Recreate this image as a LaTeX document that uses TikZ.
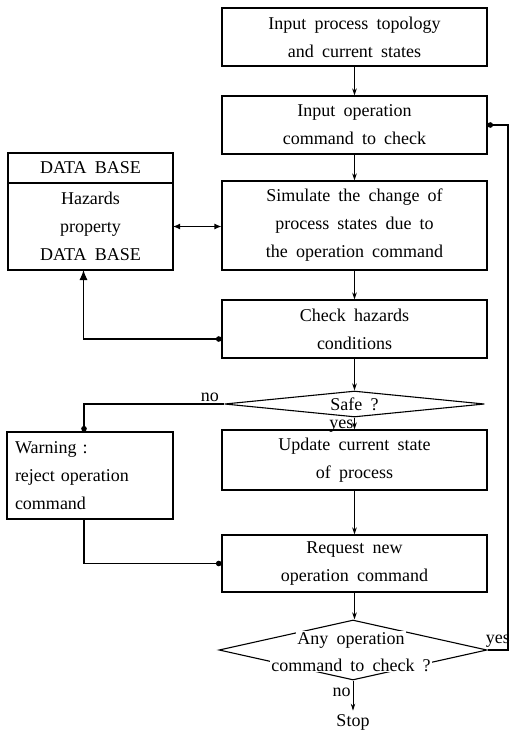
\documentclass[tikz,border=0pt]{standalone}
\usepackage{fontspec}
\setmainfont{Liberation Serif}[WordSpace=1.8]
\usetikzlibrary{arrows.meta,shapes.geometric}

\begin{document}
\begin{tikzpicture}[x=1pt, y=-1pt, font=\fontsize{18}{28}\selectfont,
  box/.style={draw, line width=1.1pt, minimum width=265pt, align=center, inner sep=0pt},
  decision/.style={diamond, draw, line width=1.1pt, inner sep=0pt},
  cover/.style={fill=white, inner sep=1pt},
  flow/.style={line width=0.9pt, -{Stealth[length=7pt, width=4.5pt]}},
  dotflow/.style={line width=1.1pt, -{Circle[length=5.5pt]}}]
      \useasboundingbox (0,0) rectangle (510,731);
      % main column
      \node[box, minimum height=58pt] (inp) at (354.5,37) {Input process topology\\and current states};
      \node[box, minimum height=58pt] (cmd) at (354.5,125) {Input operation\\command to check};
      \node[box, minimum height=89pt] (sim) at (354.5,225.5) {Simulate the change of\\process states due to\\the operation command};
      \node[box, minimum height=58pt] (chk) at (354.5,329) {Check hazards\\conditions};
      \node[decision, minimum width=260pt, minimum height=26pt] (safe) at (354.5,404) {};
      \node (safetxt) at (safe.center) {Safe ?};
      \node[box, minimum height=60pt] (upd) at (354.5,460) {Update current state\\of process};
      \node[box, minimum height=57pt] (req) at (354.5,563.5) {Request new\\operation command};
      \node[decision, minimum width=268pt, minimum height=60pt] (any) at (353,650) {};
      \node[cover] (anytop) at (351,640) {Any operation};
      \node[cover] (anybot) at (351,665) {command to check ?};
      \node (stop) at (353,722) {Stop};
      % left column
      \node[box, minimum width=165pt, minimum height=30pt, outer sep=0pt] (dbhead) at (90.5,168) {DATA BASE};
      \node[box, minimum width=165pt, minimum height=87pt, outer sep=0pt, anchor=north] (db) at (dbhead.south) {Hazards\\property\\DATA BASE};
      \node[box, minimum width=166pt, minimum height=87pt, align=left, text width=150pt] (warn) at (90,475.5) {Warning :\\reject operation\\command};
      \coordinate (back) at (508,650);
      % connectors
      \draw[flow] (inp) -- (cmd);
      \draw[flow] (cmd) -- (sim);
      \draw[flow] (sim) -- (chk);
      \draw[flow] (chk) -- (safe.north);
      \draw[flow] (safe.south) -- (upd);
      \node[anchor=north east, inner sep=1pt] (safeyes) at ([yshift=-1pt]safe.south) {yes};
      \draw[flow] (upd) -- (req);
      \draw[flow] (req.south) -- (req.south |- any.north);
      \draw[flow] (any.south) -- node[left, pos=0.4, inner sep=2pt] {no} (stop);
      \draw[line width=1.1pt, {Latex[length=7pt, width=6pt]}-{Latex[length=7pt, width=6pt]}] (db.east) -- (db.east -| sim.west);
      \draw[line width=1.1pt, {Circle[length=5.5pt]}-{Latex[length=10pt, width=8pt]}] ([yshift=-10pt]chk.west) -| ([xshift=-7pt]db.south);
      \draw[dotflow] (safe.west) -| node[above, pos=0.05, inner sep=2pt] {no} ([xshift=-6pt]warn.north);
      \draw[dotflow] ([xshift=-6pt]warn.south) |- (req.west);
      \draw[dotflow] (any.east) -- node[above, inner sep=2pt] {yes} (back) |- (cmd.east);
\end{tikzpicture}
\end{document}
